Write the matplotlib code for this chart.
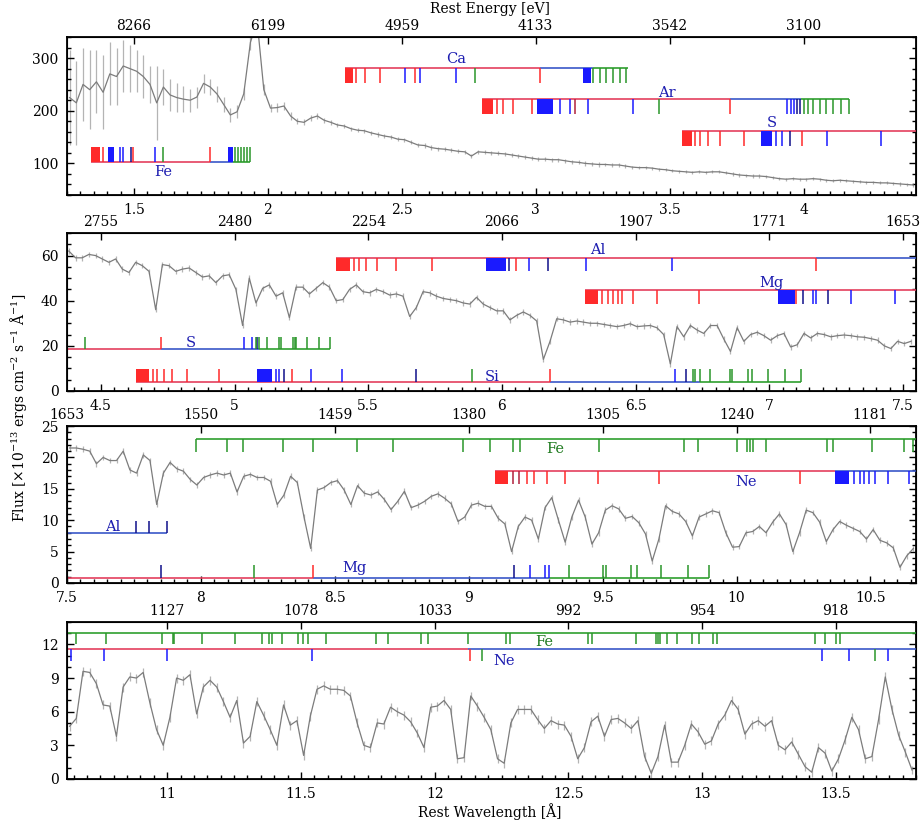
import numpy as np
import matplotlib
matplotlib.use("Agg")
import matplotlib.pyplot as plt
from matplotlib.patches import Rectangle
from matplotlib.ticker import MultipleLocator, FormatStrFormatter, NullLocator

plt.rcParams['font.family'] = ['DejaVu Serif']
plt.rcParams['mathtext.fontset'] = 'dejavuserif'
plt.rcParams['font.size'] = 10

BIN = 0.025  # spectral bin width [Angstrom]

# ---------------- spectrum, one list per panel ----------------
start1 = 1.26
flux1 = [225, 215, 250, 240, 255, 235, 270, 265, 285, 280,
         275, 265, 250, 215, 245, 230, 225, 222, 220, 226,
         252, 245, 232, 212, 192, 198, 232, 330, 370, 240,
         205, 206, 209, 190, 180, 178, 186, 190, 182, 178,
         173, 171, 166, 163, 162, 158, 155, 152, 150, 146,
         145, 140, 135, 134, 130, 128, 127, 125, 123, 122,
         114, 122, 121, 120, 119, 118, 116, 114, 112, 110,
         108, 108, 107, 107, 105, 103, 102, 100, 99, 98,
         98, 97, 97, 95, 93, 92, 92, 91, 89, 88,
         86, 85, 84, 83, 84, 83, 84, 84, 82, 80,
         78, 77, 76, 76, 75, 73, 71, 70, 71, 70,
         70, 71, 70, 68, 67, 68, 67, 66, 65, 64,
         64, 63, 63, 62, 61, 60, 59]
err1 = [90, 80, 70, 75, 60, 70, 60, 55, 50, 45,
        40, 40, 35, 70, 35, 30, 28, 25, 22, 20,
        18, 16, 15, 14, 13, 12, 12, 15, 15, 10,
        8, 8, 7, 7, 6, 6, 6, 5, 5, 5,
        4, 4, 4, 4, 4, 4, 4, 4, 4, 4,
        4, 4, 4, 4, 4, 4, 4, 4, 4, 4,
        4, 4, 4, 4, 4, 4, 4, 4, 4, 4,
        4, 4, 4, 4, 4, 4, 4, 4, 4, 4,
        3, 3, 3, 3, 3, 3, 3, 3, 3, 3,
        3, 3, 3, 3, 3, 3, 3, 3, 3, 3,
        3, 3, 3, 3, 3, 3, 3, 3, 3, 3,
        3, 3, 3, 3, 3, 3, 3, 3, 3, 3,
        3, 3, 3, 3, 3, 3, 3]

start2 = 4.38
flux2 = [62, 59, 59, 60.5, 60, 58.5, 57, 58.5, 54, 52.5,
         57, 55.5, 53, 36, 56, 55.5, 53, 54, 54.5, 52.5,
         50.5, 51, 48, 51, 51.5, 45, 29, 50, 39, 45.5,
         47, 42, 43.5, 32.5, 46, 46, 43, 45.5, 48, 46,
         40, 40.5, 45, 47, 44, 43.5, 45, 44, 42.5, 43,
         42, 33, 37, 44, 43.5, 42, 41, 40.5, 40, 39,
         38.5, 41.5, 38.5, 37, 35.5, 35.5, 31.5, 33.5, 35, 33.5,
         31, 14, 22, 32, 31.5, 30.5, 31, 30.5, 30, 30,
         29.5, 29, 28.5, 29, 29.8, 28.5, 28.8, 29, 28, 25,
         12, 28.5, 24, 29, 27, 25.5, 29, 29, 23, 17.5,
         28, 22, 25, 26, 24.5, 22.5, 24.5, 25.5, 19.5, 20.5,
         25.5, 23.5, 25.5, 25, 24, 24.5, 24.8, 24.5, 24, 23.8,
         23.2, 22.5, 20, 18.8, 22, 21, 22]
err2 = 1.2

start3 = 7.51
flux3 = [21.5, 21.5, 21.3, 21, 19, 20, 19.5, 19.5, 21, 18,
         17.5, 20.4, 19.5, 12.5, 17.5, 19.2, 18.2, 17.8, 16.5, 15.6,
         16.8, 17.2, 17.5, 17.2, 17.5, 14.5, 17, 17.3, 16.8, 16.8,
         16.2, 12.5, 14, 17, 16, 10.5, 5.5, 14.8, 15.2, 16,
         16.3, 14.8, 12.5, 15.5, 14.3, 14, 14.5, 13.3, 11.7, 13,
         14.6, 12, 12.4, 13, 13.8, 14.2, 13.5, 12.6, 9.8, 10.5,
         12.4, 12.7, 12.2, 12.2, 10.3, 9.4, 5, 9, 10.5, 10,
         7, 12, 13.6, 10, 6.5, 10.5, 13.2, 10.5, 6.2, 8,
         11.6, 12.3, 11.8, 10.3, 10.6, 9.6, 7.8, 3.5, 7, 12.3,
         11.4, 11, 9.8, 7.5, 10.5, 11, 11.5, 11.2, 8, 5.7,
         5.8, 8, 8.2, 9, 8, 9.7, 11, 9.3, 5, 8,
         11.6, 11.2, 9.7, 6.6, 8.5, 9.8, 9.2, 8.7, 8.2, 7,
         8.5, 6.8, 6.4, 5.6, 2.5, 4.3, 5.5]
err3 = 0.45

start4 = 10.635
flux4 = [4.7, 5.4, 9.6, 9.5, 8.5, 6.6, 6.5, 3.8, 8.2, 9.1,
         9.0, 9.5, 6.8, 4.4, 3.0, 5.5, 9.0, 8.8, 9.3, 5.8,
         8.2, 8.8, 8.2, 6.9, 5.5, 7.0, 3.2, 3.8, 6.9, 5.7,
         4.4, 3.0, 6.6, 4.8, 5.2, 2.1, 5.6, 8.0, 8.3, 8.0,
         8.0, 7.9, 7.4, 5.0, 3.0, 2.8, 5.0, 4.9, 6.4, 6.0,
         5.7, 5.1, 4.1, 2.8, 6.4, 6.5, 7.0, 6.2, 1.8, 1.9,
         7.4, 6.5, 5.5, 4.4, 1.8, 1.4, 5.0, 6.2, 6.2, 6.2,
         5.3, 4.5, 5.2, 4.9, 4.8, 3.8, 1.8, 2.8, 5.1, 5.6,
         3.8, 5.3, 5.4, 5.0, 4.5, 5.2, 2.0, 0.5, 2.0, 4.8,
         1.5, 1.5, 3.0, 4.9, 4.2, 3.1, 3.4, 4.9, 5.7, 7.0,
         6.2, 4.0, 4.9, 5.2, 4.7, 5.2, 3.0, 2.6, 3.3, 2.2,
         1.1, 0.6, 2.8, 2.3, 0.7, 1.8, 3.5, 5.5, 4.4, 1.8,
         2.0, 5.3, 9.1, 6.2, 3.9, 2.4, 0.8]
err4 = 0.4

# ---------------- axis ranges and tick labels ----------------
xlims = [(1.25, 4.42), (4.373, 7.549), (7.5, 10.67), (10.625, 13.80)]
ylims = [(40, 340), (0, 70), (0, 25), (0, 14)]
ymajor = [100, 20, 5, 3]
yminor = [20, 5, 1, 1]
wave_ticks = [[1.5, 2, 2.5, 3, 3.5, 4],
              [4.5, 5, 5.5, 6, 6.5, 7, 7.5],
              [7.5, 8, 8.5, 9, 9.5, 10, 10.5],
              [11, 11.5, 12, 12.5, 13, 13.5]]
energy_labels = [['8266', '6199', '4959', '4133', '3542', '3100'],
                 ['2755', '2480', '2254', '2066', '1907', '1771', '1653'],
                 ['1653', '1550', '1459', '1380', '1305', '1240', '1181'],
                 ['1127', '1078', '1033', '992', '954', '918']]

# ---------------- line-series identifications ----------------
# r = red, b = blue, d = dark blue, g = green, m = dark red
series_p1 = [
    dict(name='Ca', level=282, sign=-1, tl=0.095, lab=(2.704, 298, 'b'),
         segs=[(2.287, 3.015, 'r'), (3.015, 3.214, 'b'), (3.214, 3.343, 'g')],
         blocks=[(2.287, 2.318, 'r'), (3.177, 3.205, 'b')],
         ticks=dict(r=[2.331, 2.362, 2.418, 2.549, 3.015],
                    b=[2.511, 2.567, 2.704],
                    g=[2.772, 3.214, 3.239, 3.264, 3.289, 3.313, 3.338])),
    dict(name='Ar', level=222, sign=-1, tl=0.095, lab=(3.49, 233, 'b'),
         segs=[(2.80, 3.724, 'r'), (3.724, 3.99, 'b'), (3.99, 4.168, 'g')],
         blocks=[(2.80, 2.84, 'r'), (3.004, 3.065, 'b')],
         ticks=dict(r=[2.854, 2.877, 2.914, 2.985, 3.724], m=[3.146],
                    b=[3.09, 3.127, 3.194, 3.363, 3.94, 3.955, 3.965],
                    d=[3.975, 3.985],
                    g=[3.459, 4.0, 4.015, 4.035, 4.06, 4.085, 4.11, 4.14, 4.168])),
    dict(name='S', level=161, sign=-1, tl=0.095, lab=(3.88, 176, 'b'),
         segs=[(3.545, 4.42, 'r')],
         blocks=[(3.545, 3.582, 'r'), (3.843, 3.881, 'b')],
         ticks=dict(r=[3.593, 3.612, 3.642, 3.687, 3.776, 3.993],
                    b=[3.899, 3.921, 4.086, 4.291], d=[3.948])),
    dict(name='Fe', level=102, sign=1, tl=0.095, lab=(1.608, 83, 'b'),
         segs=[(1.339, 1.784, 'r'), (1.784, 1.869, 'b'), (1.869, 1.933, 'g')],
         blocks=[(1.339, 1.373, 'r'), (1.403, 1.425, 'b'), (1.851, 1.869, 'b')],
         ticks=dict(r=[1.384, 1.496, 1.784], b=[1.448, 1.459, 1.578], d=[1.49],
                    g=[1.608, 1.877, 1.888, 1.899, 1.91, 1.921, 1.933])),
]
series_p2 = [
    dict(name='Al', level=59, sign=-1, tl=0.085, lab=(6.36, 62.6, 'b'),
         segs=[(5.38, 7.174, 'r'), (7.174, 7.549, 'b')],
         blocks=[(5.38, 5.43, 'r'), (5.942, 6.017, 'b')],
         ticks=dict(r=[5.447, 5.466, 5.492, 5.534, 5.605, 5.738, 6.054, 7.174],
                    d=[6.028, 6.171], b=[6.103, 6.316, 6.635])),
    dict(name='Mg', level=44.6, sign=-1, tl=0.085, lab=(7.01, 48, 'b'),
         segs=[(6.31, 7.549, 'r')],
         blocks=[(6.31, 6.36, 'r'), (7.032, 7.096, 'b')],
         ticks=dict(r=[6.376, 6.395, 6.414, 6.433, 6.451, 6.489, 6.579, 6.736, 7.10],
                    d=[7.125, 7.22], b=[7.163, 7.176, 7.307, 7.47])),
    dict(name='S', level=18.5, sign=1, tl=0.08, lab=(4.837, 21.3, 'b'),
         segs=[(4.373, 4.725, 'r'), (4.725, 5.09, 'b'), (5.09, 5.357, 'g')],
         blocks=[],
         ticks=dict(r=[4.725], b=[5.036, 5.066], d=[5.085],
                    g=[4.44, 5.079, 5.09, 5.12, 5.165, 5.172, 5.22, 5.225,
                       5.23, 5.27, 5.316, 5.357])),
    dict(name='Si', level=4.0, sign=1, tl=0.08, lab=(5.964, 6.2, 'b'),
         segs=[(4.631, 6.178, 'r'), (6.178, 6.74, 'b'), (6.74, 7.12, 'g')],
         blocks=[(4.631, 4.68, 'r'), (5.085, 5.14, 'b')],
         ticks=dict(r=[4.693, 4.71, 4.736, 4.766, 4.822, 4.943, 5.215, 6.178],
                    b=[5.155, 5.166, 5.287, 5.40, 6.647], d=[5.185, 5.679, 6.688],
                    g=[5.889, 6.715, 6.722, 6.74, 6.78, 6.854, 6.86, 6.92,
                       6.935, 6.995, 7.06, 7.12])),
]
series_p3 = [
    dict(name='Fe', level=22.9, sign=-1, tl=0.08, lab=(9.324, 21.4, 'g'),
         segs=[(7.983, 10.67, 'g')], blocks=[],
         ticks=dict(g=[7.983, 8.099, 8.159, 8.305, 8.418, 8.582, 8.717, 8.979,
                       9.08, 9.167, 9.192, 9.485, 9.804, 9.856, 10.0, 10.04,
                       10.05, 10.06, 10.11, 10.336, 10.36, 10.504, 10.624, 10.66])),
    dict(name='Ne', level=17.8, sign=-1, tl=0.08, lab=(10.036, 16.1, 'b'),
         segs=[(9.099, 10.366, 'r'), (10.366, 10.67, 'b')],
         blocks=[(9.099, 9.148, 'r'), (10.366, 10.42, 'b')],
         ticks=dict(m=[9.167, 9.189],
                    r=[9.219, 9.242, 9.294, 9.361, 9.481, 9.709, 10.237],
                    b=[10.44, 10.46, 10.477, 10.496, 10.515, 10.567, 10.642])),
    dict(name='Al', level=7.95, sign=1, tl=0.08, lab=(7.67, 8.9, 'b'),
         segs=[(7.5, 7.875, 'b')], blocks=[],
         ticks=dict(d=[7.758, 7.807, 7.875])),
    dict(name='Mg', level=0.8, sign=1, tl=0.08, lab=(8.575, 2.4, 'b'),
         segs=[(7.5, 8.418, 'r'), (8.418, 9.298, 'b'), (9.298, 9.897, 'g')],
         blocks=[],
         ticks=dict(d=[7.851, 9.17], r=[8.418], b=[9.23, 9.283, 9.298],
                    g=[8.2, 9.376, 9.5, 9.511, 9.605, 9.63, 9.717, 9.818, 9.897])),
]
series_p4 = [
    dict(name='Fe', level=13.0, sign=-1, tl=0.07, lab=(12.41, 12.2, 'g'),
         segs=[(10.625, 13.80, 'g')], blocks=[],
         ticks=dict(g=[10.66, 10.77, 10.982, 11.02, 11.025, 11.13, 11.255, 11.355,
                       11.38, 11.39, 11.43, 11.49, 11.506, 11.528, 11.595, 11.78,
                       11.825, 11.95, 11.975, 12.125, 12.268, 12.28, 12.574, 12.587,
                       12.753, 12.827, 12.835, 12.843, 12.87, 12.905, 12.963, 12.99,
                       13.04, 13.056, 13.424, 13.461, 13.5, 13.514])),
    dict(name='Ne', level=11.55, sign=-1, tl=0.075, lab=(12.26, 10.5, 'b'),
         segs=[(10.625, 12.124, 'r'), (12.124, 13.80, 'b')], blocks=[],
         ticks=dict(b=[10.64, 10.764, 11.0, 11.543, 13.449, 13.551, 13.697],
                    r=[12.131], g=[12.176, 13.648])),
]

TICK_COL = dict(r='#ff2a2a', m='#b0203c', b='#1a1aff', d='#10108a', g='#2a962a')
LINE_COL = dict(r='#e4405e', b='#3a58c8', g='#2fa02f')
LABEL_COL = dict(b='#1c1cb0', g='#1f7a1f')

spectra = [(start1, flux1, err1), (start2, flux2, err2),
           (start3, flux3, err3), (start4, flux4, err4)]
series = [series_p1, series_p2, series_p3, series_p4]

AX_POS = [(0.0727, 0.7625, 0.9219, 0.1924),
          (0.0727, 0.5238, 0.9219, 0.1924),
          (0.0727, 0.2899, 0.9219, 0.1912),
          (0.0727, 0.0512, 0.9219, 0.1912)]


def draw_series(ax, s):
    y0, y1 = ax.get_ylim()
    lev = (s['level'] - y0) / (y1 - y0)
    tr = ax.get_xaxis_transform()
    tl = s['tl']
    for a, b, c in s['segs']:
        ax.plot([a, b], [lev, lev], color=LINE_COL[c], lw=1.2, transform=tr,
                solid_capstyle='butt', zorder=4, clip_on=True)
    for c, xs in s['ticks'].items():
        ax.vlines(xs, lev, lev + s['sign'] * tl, colors=TICK_COL[c], lw=1.1,
                  transform=tr, zorder=5)
    for a, b, c in s['blocks']:
        ybot = lev if s['sign'] > 0 else lev - tl
        ax.add_patch(Rectangle((a, ybot), b - a, tl, facecolor=TICK_COL[c],
                               edgecolor='none', transform=tr, zorder=5))
    lx, ly, lc = s['lab']
    ax.text(lx, ly, s['name'], color=LABEL_COL[lc], ha='center', va='center',
            fontsize=10.5, zorder=6)


fig = plt.figure(figsize=(9.21, 8.21), dpi=100)

for i in range(4):
    ax = fig.add_axes(AX_POS[i])
    x0, flux, err = spectra[i]
    wave = x0 + BIN * np.arange(len(flux))
    ax.errorbar(wave, flux, yerr=err, fmt='none', ecolor='#b4b4b4',
                elinewidth=0.9, zorder=1)
    ax.plot(wave, flux, color='#7c7c7c', lw=0.9, zorder=2)
    ax.set_xlim(xlims[i])
    ax.set_ylim(ylims[i])
    ax.xaxis.set_major_locator(MultipleLocator(0.5))
    ax.xaxis.set_minor_locator(MultipleLocator(0.05))
    ax.xaxis.set_major_formatter(FormatStrFormatter('%g'))
    ax.yaxis.set_major_locator(MultipleLocator(ymajor[i]))
    ax.yaxis.set_minor_locator(MultipleLocator(yminor[i]))
    ax.tick_params(which='both', direction='in', right=True, top=False,
                   width=1.0, labelsize=10)
    ax.tick_params(axis='x', which='major', length=5, pad=5.5)
    ax.tick_params(axis='y', which='major', length=5, pad=6)
    ax.tick_params(which='minor', length=2.8)
    for sp in ax.spines.values():
        sp.set_linewidth(1.3)

    for s in series[i]:
        draw_series(ax, s)

    top = ax.twiny()
    top.set_xlim(xlims[i])
    top.set_xticks(wave_ticks[i])
    top.set_xticklabels(energy_labels[i])
    top.xaxis.set_minor_locator(NullLocator())
    top.tick_params(direction='in', length=5, width=1.0, pad=3, labelsize=10)

fig.text(0.532, 0.989, 'Rest Energy [eV]', ha='center', va='center', fontsize=10)
fig.text(0.532, 0.011, 'Rest Wavelength [Å]', ha='center', va='center', fontsize=10)
fig.text(0.020, 0.503,
         r'Flux [$\times$10$^{-13}$ ergs cm$^{-2}$ s$^{-1}$ Å$^{-1}$]',
         rotation=90, ha='center', va='center', fontsize=10)

fig.savefig('out.png', dpi=100)
